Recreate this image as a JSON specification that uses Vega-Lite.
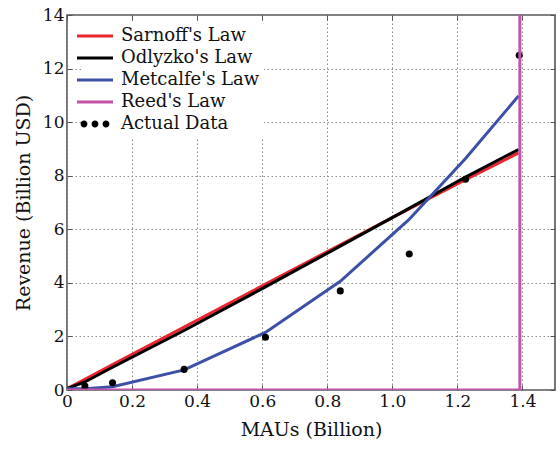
{
  "$schema": "https://vega.github.io/schema/vega-lite/v6.json",
  "autosize": {"type": "none"},
  "width": 488,
  "height": 375,
  "padding": {"left": 67, "top": 15, "right": 5, "bottom": 60},
  "background": "white",
  "config": {
    "font": "DejaVu Serif",
    "view": {"stroke": "#555", "strokeWidth": 1.6},
    "axis": {
      "labelFont": "DejaVu Serif", "labelFontSize": 17, "labelColor": "#111",
      "titleFont": "DejaVu Serif", "titleFontSize": 19, "titleFontWeight": "normal", "titleColor": "#111",
      "grid": true, "gridColor": "#8a8a8a", "gridDash": [1.5, 2.5], "gridWidth": 1,
      "domain": false, "tickColor": "#555", "tickSize": -5, "tickWidth": 1
    }
  },
  "resolve": {"axis": {"x": "independent", "y": "independent"}},
  "data": {"values": [
    {"series": "Sarnoff's Law", "x": 0, "y": 0.05, "k": 0},
    {"series": "Sarnoff's Law", "x": 0.055, "y": 0.4, "k": 1},
    {"series": "Sarnoff's Law", "x": 0.14, "y": 0.95, "k": 2},
    {"series": "Sarnoff's Law", "x": 0.36, "y": 2.35, "k": 3},
    {"series": "Sarnoff's Law", "x": 0.61, "y": 3.95, "k": 4},
    {"series": "Sarnoff's Law", "x": 0.84, "y": 5.42, "k": 5},
    {"series": "Sarnoff's Law", "x": 1.05, "y": 6.75, "k": 6},
    {"series": "Sarnoff's Law", "x": 1.225, "y": 7.85, "k": 7},
    {"series": "Sarnoff's Law", "x": 1.388, "y": 8.85, "k": 8},
    {"series": "Odlyzko's Law", "x": 0, "y": 0.05, "k": 0},
    {"series": "Odlyzko's Law", "x": 0.055, "y": 0.3, "k": 1},
    {"series": "Odlyzko's Law", "x": 0.14, "y": 0.85, "k": 2},
    {"series": "Odlyzko's Law", "x": 0.36, "y": 2.22, "k": 3},
    {"series": "Odlyzko's Law", "x": 0.61, "y": 3.85, "k": 4},
    {"series": "Odlyzko's Law", "x": 0.84, "y": 5.37, "k": 5},
    {"series": "Odlyzko's Law", "x": 1.05, "y": 6.77, "k": 6},
    {"series": "Odlyzko's Law", "x": 1.225, "y": 7.95, "k": 7},
    {"series": "Odlyzko's Law", "x": 1.388, "y": 8.98, "k": 8},
    {"series": "Metcalfe's Law", "x": 0, "y": 0.05, "k": 0},
    {"series": "Metcalfe's Law", "x": 0.055, "y": 0.05, "k": 1},
    {"series": "Metcalfe's Law", "x": 0.14, "y": 0.12, "k": 2},
    {"series": "Metcalfe's Law", "x": 0.36, "y": 0.75, "k": 3},
    {"series": "Metcalfe's Law", "x": 0.61, "y": 2.15, "k": 4},
    {"series": "Metcalfe's Law", "x": 0.84, "y": 4.06, "k": 5},
    {"series": "Metcalfe's Law", "x": 1.05, "y": 6.35, "k": 6},
    {"series": "Metcalfe's Law", "x": 1.225, "y": 8.64, "k": 7},
    {"series": "Metcalfe's Law", "x": 1.388, "y": 10.98, "k": 8},
    {"series": "Reed's Law", "x": 0, "y": 0, "k": 0},
    {"series": "Reed's Law", "x": 1.392, "y": 0, "k": 1},
    {"series": "Reed's Law", "x": 1.392, "y": 16, "k": 2},
    {"series": "Actual Data", "x": 0.055, "y": 0.15, "k": 0},
    {"series": "Actual Data", "x": 0.14, "y": 0.27, "k": 1},
    {"series": "Actual Data", "x": 0.36, "y": 0.77, "k": 2},
    {"series": "Actual Data", "x": 0.61, "y": 1.97, "k": 3},
    {"series": "Actual Data", "x": 0.84, "y": 3.7, "k": 4},
    {"series": "Actual Data", "x": 1.052, "y": 5.08, "k": 5},
    {"series": "Actual Data", "x": 1.225, "y": 7.87, "k": 6},
    {"series": "Actual Data", "x": 1.39, "y": 12.5, "k": 7}
  ]},
  "layer": [
    {
      "encoding": {
        "x": {
          "field": "x", "type": "quantitative",
          "scale": {"domain": [0, 1.5], "nice": false, "zero": false},
          "axis": {"title": "MAUs (Billion)", "values": [0, 0.2, 0.4, 0.6, 0.8, 1.0, 1.2, 1.4],
                   "labelExpr": "datum.value === 0 ? '0' : format(datum.value, '.1f')",
                   "labelPadding": 8, "titlePadding": 11, "labelFlush": false}
        },
        "y": {
          "field": "y", "type": "quantitative",
          "scale": {"domain": [0, 14], "nice": false},
          "axis": {"title": "Revenue (Billion USD)", "values": [0, 2, 4, 6, 8, 10, 12, 14],
                   "labelPadding": 8, "titlePadding": 9, "labelFlush": false}
        },
        "color": {
          "field": "series", "type": "nominal",
          "scale": {
            "domain": ["Sarnoff's Law", "Odlyzko's Law", "Metcalfe's Law", "Reed's Law", "Actual Data"],
            "range": ["#e8262b", "#000000", "#3c50a8", "#c253a9", "#000000"]
          },
          "legend": {
            "orient": "none", "legendX": 15, "legendY": 8, "title": null,
            "fillColor": "white", "padding": 4,
            "symbolType": "stroke", "symbolSize": 1296, "symbolStrokeWidth": 3, "symbolOpacity": 1,
            "labelFont": "DejaVu Serif", "labelFontSize": 18, "labelColor": "#111",
            "labelOffset": 17, "rowPadding": 4, "labelLimit": 300,
            "encode": {
              "symbols": {"update": {
                "shape": {"signal": "datum.label === 'Actual Data' ? 'M-0.8,0a0.19,0.19 0 1,0 0.38,0a0.19,0.19 0 1,0 -0.38,0M-0.19,0a0.19,0.19 0 1,0 0.38,0a0.19,0.19 0 1,0 -0.38,0M0.42,0a0.19,0.19 0 1,0 0.38,0a0.19,0.19 0 1,0 -0.38,0' : 'stroke'"},
                "fill": {"signal": "datum.label === 'Actual Data' ? '#000000' : 'transparent'"},
                "strokeWidth": {"signal": "datum.label === 'Actual Data' ? 0 : 3"},
                "opacity": {"value": 1}
              }}
            }
          }
        }
      },
      "layer": [
        {"transform": [{"filter": "datum.series === \"Sarnoff's Law\""}],
         "mark": {"type": "line", "strokeWidth": 3, "clip": true}},
        {"transform": [{"filter": "datum.series === \"Odlyzko's Law\""}],
         "mark": {"type": "line", "strokeWidth": 3, "clip": true}},
        {"transform": [{"filter": "datum.series === \"Metcalfe's Law\""}],
         "mark": {"type": "line", "strokeWidth": 3, "clip": true}},
        {"transform": [{"filter": "datum.series === 'Actual Data'"}],
         "mark": {"type": "point", "filled": true, "size": 50, "opacity": 1, "clip": true}},
        {"transform": [{"filter": "datum.series === \"Reed's Law\""}],
         "mark": {"type": "line", "strokeWidth": 3, "clip": true},
         "encoding": {"order": {"field": "k", "type": "quantitative"}}}
      ]
    },
    {
      "transform": [{"filter": "datum.series === 'Actual Data'"}],
      "mark": {"type": "point", "opacity": 0},
      "encoding": {
        "x": {"field": "x", "type": "quantitative",
              "axis": {"orient": "top", "title": null, "labels": false, "grid": false,
                       "values": [0, 0.2, 0.4, 0.6, 0.8, 1.0, 1.2, 1.4]}},
        "y": {"field": "y", "type": "quantitative",
              "axis": {"orient": "right", "title": null, "labels": false, "grid": false,
                       "values": [0, 2, 4, 6, 8, 10, 12, 14]}}
      }
    }
  ]
}
